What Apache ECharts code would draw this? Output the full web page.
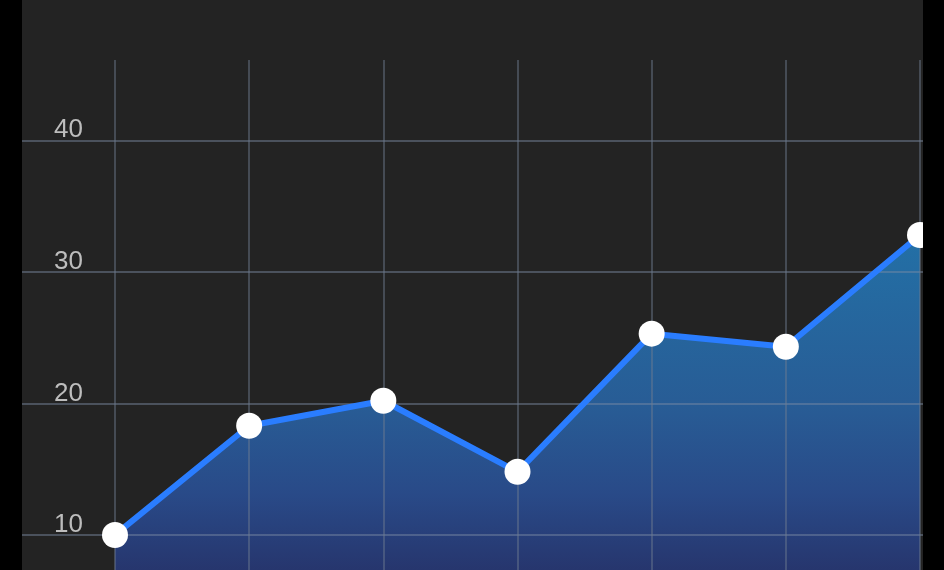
<!DOCTYPE html>
<html>
<head>
<meta charset="utf-8">
<script src="https://cdn.jsdelivr.net/npm/echarts@6/dist/echarts.min.js"></script>
<style>
    html, body { margin: 0; padding: 0; background: #000; overflow: hidden; }
    #wrap {
        position: absolute; left: 22px; top: 0;
        width: 901px; height: 570px;
        background: #232323; overflow: hidden;
    }
    #chart { width: 901px; height: 700px; }
</style>
</head>
<body>
<div id="wrap"><div id="chart"></div></div>
<script>
    // categories (no labels shown in the picture)
    var categories = ['1', '2', '3', '4', '5', '6', '7'];
    // values
    var values = [10, 18.3, 20.2, 14.8, 25.3, 24.3, 32.8];
    // y axis range
    var yMin = 0, yMax = 46.1, yStep = 10;

    var chart = echarts.init(document.getElementById('chart'));
    var lineCol = 'rgba(125,140,165,0.45)';

    chart.setOption({
        backgroundColor: 'transparent',
        animation: false,
        grid: [
            { left: 0, right: 0, top: 60, bottom: 33.5 },
            { left: 93, right: 3, top: 60, bottom: 33.5 }
        ],
        xAxis: [
            { gridIndex: 0, type: 'value', min: 0, max: 1, show: false },
            {
                gridIndex: 1, type: 'category', data: categories, boundaryGap: false, z: 2,
                axisLine: { show: false }, axisTick: { show: false }, axisLabel: { show: false },
                splitLine: { show: true, lineStyle: { color: 'rgba(110,125,145,0.45)', width: 2 } }
            }
        ],
        yAxis: [
            {
                gridIndex: 0, type: 'value', min: yMin, max: yMax, interval: yStep, z: 2,
                axisLine: { show: false }, axisTick: { show: false },
                axisLabel: {
                    inside: true, margin: 32, showMaxLabel: false,
                    color: '#bdbdbd', fontSize: 26, fontFamily: 'Liberation Sans, Arial, sans-serif',
                    verticalAlign: 'bottom', lineHeight: 20
                },
                splitLine: {
                    show: true,
                    lineStyle: { width: 2, color: [lineCol, lineCol, lineCol, lineCol, lineCol, 'rgba(0,0,0,0)'] }
                }
            },
            { gridIndex: 1, type: 'value', min: yMin, max: yMax, interval: yStep, show: false }
        ],
        series: [
            {
                type: 'line', xAxisIndex: 1, yAxisIndex: 1, data: values, z: 1,
                symbol: 'none', lineStyle: { width: 0 },
                areaStyle: {
                    opacity: 1,
                    color: new echarts.graphic.LinearGradient(0, 0, 0, 1, [
                        { offset: 0, color: '#2370a6' },
                        { offset: 0.4, color: '#285c95' },
                        { offset: 0.6, color: '#294a88' },
                        { offset: 0.8, color: '#26336a' },
                        { offset: 1, color: '#24295a' }
                    ])
                }
            },
            {
                type: 'line', xAxisIndex: 1, yAxisIndex: 1, data: values, z: 3,
                symbol: 'circle', symbolSize: 26,
                itemStyle: { color: '#ffffff', borderWidth: 0 },
                lineStyle: { color: '#2a7dff', width: 6 }
            }
        ]
    });
</script>
</body>
</html>
